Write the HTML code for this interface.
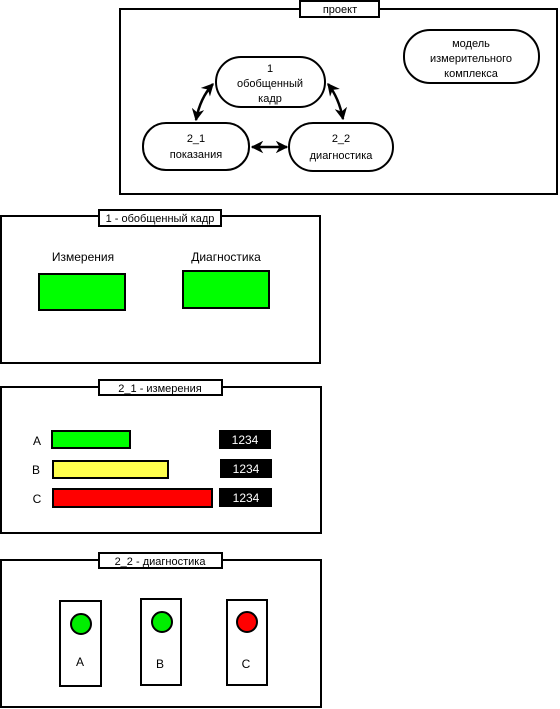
<!DOCTYPE html>
<html><head><meta charset="utf-8"><style>
body{margin:0;background:#fff}
svg{display:block}
</style></head><body>
<svg width="560" height="709" viewBox="0 0 560 709" xmlns="http://www.w3.org/2000/svg" font-family="Liberation Sans, DejaVu Sans, sans-serif" font-size="12">
<defs>
<marker id="ah" viewBox="0 0 10 10" refX="9" refY="5" markerWidth="5" markerHeight="5" orient="auto-start-reverse">
<path d="M0,0 L10,5 L0,10 L3,5 z" fill="#000"/></marker>
</defs>
<g fill="none" stroke="#000" stroke-width="2">
<rect x="120" y="9" width="437" height="185" fill="#fff"/>
<rect x="300" y="1" width="79" height="16" fill="#fff"/>
<rect x="216" y="57" width="109" height="50" rx="25" fill="#fff"/>
<rect x="143" y="123" width="106" height="47" rx="23" fill="#fff"/>
<rect x="289" y="123" width="104" height="48" rx="24" fill="#fff"/>
<rect x="404" y="30" width="135" height="53" rx="26" fill="#fff"/>
<path d="M213,84 Q200,98 196,120" stroke-width="2.5" marker-start="url(#ah)" marker-end="url(#ah)"/>
<path d="M328,84 Q339,98 343,119" stroke-width="2.5" marker-start="url(#ah)" marker-end="url(#ah)"/>
<path d="M252,147 L287,147" stroke-width="2.5" marker-start="url(#ah)" marker-end="url(#ah)"/>
<rect x="1" y="216" width="319" height="147"/>
<rect x="99" y="210" width="122" height="16" fill="#fff"/>
<rect x="39" y="274" width="86" height="36" fill="#00ff00"/>
<rect x="183" y="271" width="86" height="37" fill="#00ff00"/>
<rect x="1" y="387" width="320" height="146"/>
<rect x="99" y="380" width="123" height="15" fill="#fff"/>
<rect x="52" y="431" width="78" height="17" fill="#00ff00"/>
<rect x="53" y="461" width="115" height="17" fill="#ffff4d"/>
<rect x="53" y="489" width="159" height="18" fill="#ff0000"/>
<rect x="1" y="560" width="320" height="147"/>
<rect x="99" y="553" width="123" height="15" fill="#fff"/>
<rect x="60" y="601" width="41" height="85" fill="#fff"/>
<rect x="141" y="599" width="40" height="86" fill="#fff"/>
<rect x="227" y="600" width="40" height="85" fill="#fff"/>
<circle cx="81" cy="624" r="10" fill="#00ee00"/>
<circle cx="162" cy="622" r="10" fill="#00ee00"/>
<circle cx="247" cy="622" r="10" fill="#ff0000"/>
</g>
<g fill="#000">
<rect x="219" y="430" width="52" height="19"/>
<rect x="220" y="459" width="52" height="19"/>
<rect x="219" y="488" width="53" height="19"/>
</g>
<g text-anchor="middle" font-size="11">
<text x="340" y="13">проект</text>
<text x="270" y="72">1</text>
<text x="270" y="87">обобщенный</text>
<text x="270" y="102">кадр</text>
<text x="196" y="142">2_1</text>
<text x="196" y="158">показания</text>
<text x="341" y="142">2_2</text>
<text x="341" y="159">диагностика</text>
<text x="471" y="47">модель</text>
<text x="471" y="62">измерительного</text>
<text x="471" y="77">комплекса</text>
<text x="160" y="222">1 - обобщенный кадр</text>
<text x="160" y="392">2_1 - измерения</text>
<text x="160" y="565">2_2 - диагностика</text>
</g>
<g text-anchor="middle" font-size="12">
<text x="83" y="261">Измерения</text>
<text x="226" y="261">Диагностика</text>
<text x="245" y="444" fill="#fff">1234</text>
<text x="246" y="473" fill="#fff">1234</text>
<text x="246" y="502" fill="#fff">1234</text>
<text x="80" y="666">A</text>
<text x="160" y="668">B</text>
<text x="246" y="668">C</text>
<text x="37" y="445">A</text>
<text x="36" y="474">B</text>
<text x="37" y="503">C</text>
</g>
</svg>
</body></html>
